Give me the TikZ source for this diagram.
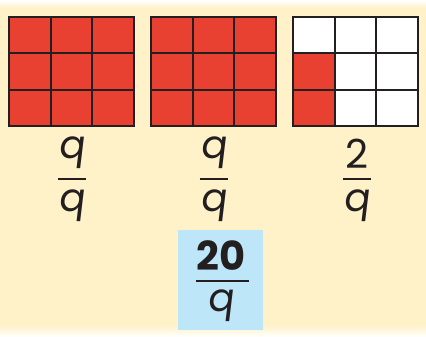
\documentclass[tikz,border=0pt]{standalone}
\usepackage{fontspec}
\setmainfont{Poppins}
\newfontfamily\qfont[FakeSlant=0.12]{Poppins}
\definecolor{bgy}{HTML}{FFF2C8}
\definecolor{cellred}{HTML}{E94131}
\definecolor{ink}{HTML}{231F20}
\definecolor{boxblue}{HTML}{BDE6F9}
\tikzset{
  gridline/.style={draw=ink, line width=2.3pt},
  fracbar/.style={draw=ink, line width=2pt},
  numtxt/.style={inner sep=0pt, text=ink, font=\fontsize{40}{40}\selectfont},
  vartxt/.style={inner sep=0pt, text=ink, font=\fontsize{39}{39}\selectfont\qfont},
  boldtxt/.style={inner sep=0pt, text=ink, font=\fontsize{40}{40}\selectfont\bfseries},
}
\begin{document}
\begin{tikzpicture}[x=1pt,y=-1pt]
\useasboundingbox (0,0) rectangle (426,337);
\fill[white] (0,0) rectangle (426,337);
% background
\shade[top color=white, bottom color=bgy] (0,0) rectangle (426,8);
\fill[bgy] (0,8) rectangle (426,325);
\shade[top color=bgy, bottom color=white] (0,325) rectangle (426,337);
% grids
\def\gw{125}\def\gh{109}
\foreach \x in {9,151,293}{
  \ifnum\x<290
    \fill[cellred] (\x,17) rectangle ++(\gw,\gh);
  \else
    \fill[white] (\x,17) rectangle ++(\gw,\gh);
    \fill[cellred] (\x,17+\gh/3) rectangle ++(\gw/3,2*\gh/3);
  \fi
  \draw[gridline] (\x,17) rectangle ++(\gw,\gh);
  \draw[gridline] (\x+\gw/3,17) -- ++(0,\gh);
  \draw[gridline] (\x+2*\gw/3,17) -- ++(0,\gh);
  \draw[gridline] (\x,17+\gh/3) -- ++(\gw,0);
  \draw[gridline] (\x,17+2*\gh/3) -- ++(\gw,0);
}
% fractions
\node[vartxt] (n1) at (71.5,152.5) {q};
\node[vartxt] (d1) at (71.5,206) {q};
\draw[fracbar] (57.5,179) -- (85.5,179);
\node[vartxt] (n2) at (213.5,152.5) {q};
\node[vartxt] (d2) at (213.5,206) {q};
\draw[fracbar] (199.5,179) -- (227.5,179);
\node[numtxt] (n3) at (356.5,153.5) {2};
\node[vartxt] (d3) at (356.5,206) {q};
\draw[fracbar] (342.5,179) -- (370.5,179);
% answer box
\fill[boxblue] (178,230) rectangle (263,330);
\node[boldtxt] (n4) at (221,255.5) {20};
\draw[fracbar] (196,280.5) -- (249,280.5);
\node[vartxt] (d4) at (221,306) {q};
\end{tikzpicture}
\end{document}
